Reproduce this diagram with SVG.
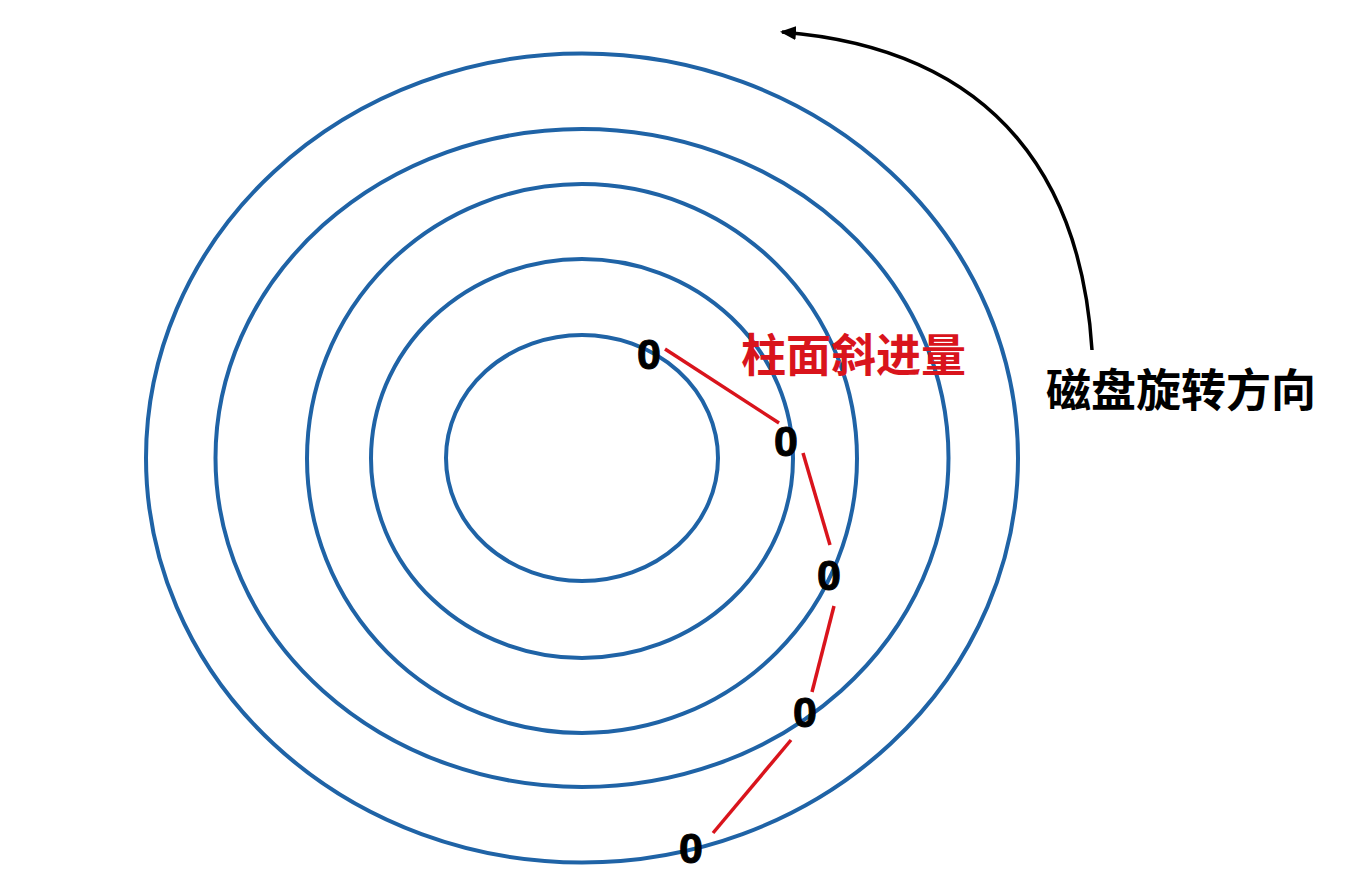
<svg xmlns="http://www.w3.org/2000/svg" width="1364" height="896" viewBox="0 0 1364 896">
<style>
.track{fill:none;stroke:#1f63a6;stroke-width:4}
.skew{stroke:#d9141c;stroke-width:3.5}
.zero{font-family:"Liberation Sans",Arial,sans-serif;font-weight:bold;font-size:43px;fill:#000;text-anchor:middle;stroke:#000;stroke-width:1}
.lbl{font-family:"Noto Sans CJK SC","Noto Sans",sans-serif;font-weight:bold;font-size:45px}
</style>
<defs>
<marker id="ah" markerWidth="16" markerHeight="14" refX="14" refY="7" orient="auto" markerUnits="userSpaceOnUse" viewBox="0 0 16 14">
<path d="M0,0 L16,7 L0,14 z" fill="#000"/>
</marker>
</defs>
<rect width="1364" height="896" fill="#fff"/>
<g id="tracks">
<ellipse id="track1" class="track" cx="582" cy="458" rx="436" ry="404.5"/>
<ellipse id="track2" class="track" cx="582" cy="458" rx="366.5" ry="329"/>
<ellipse id="track3" class="track" cx="582" cy="458.5" rx="275" ry="274.5"/>
<ellipse id="track4" class="track" cx="582" cy="458.5" rx="211" ry="199.5"/>
<ellipse id="track5" class="track" cx="582" cy="458" rx="136" ry="123"/>
</g>
<g id="connectors">
<line class="skew" x1="665" y1="349" x2="779" y2="423"/>
<line class="skew" x1="803" y1="453" x2="830" y2="545"/>
<line class="skew" x1="834" y1="606" x2="812" y2="692"/>
<line class="skew" x1="791" y1="740" x2="713" y2="833"/>
<path id="rotation-arrow" d="M1092,350 C1082,190 1005,50 782,32" fill="none" stroke="#000" stroke-width="3.5" marker-end="url(#ah)"/>
</g>
<g id="sector0-1"><text class="zero" x="649" y="369">0</text></g>
<g id="sector0-2"><text class="zero" x="786" y="456">0</text></g>
<g id="sector0-3"><text class="zero" x="829" y="590">0</text></g>
<g id="sector0-4"><text class="zero" x="805" y="727">0</text></g>
<g id="sector0-5"><text class="zero" x="691" y="863">0</text></g>
<g id="label-skew"><text class="lbl" x="741" y="372" fill="#d9141c">柱面斜进量</text></g>
<g id="label-rotation"><text class="lbl" x="1046" y="407" fill="#000">磁盘旋转方向</text></g>
</svg>
